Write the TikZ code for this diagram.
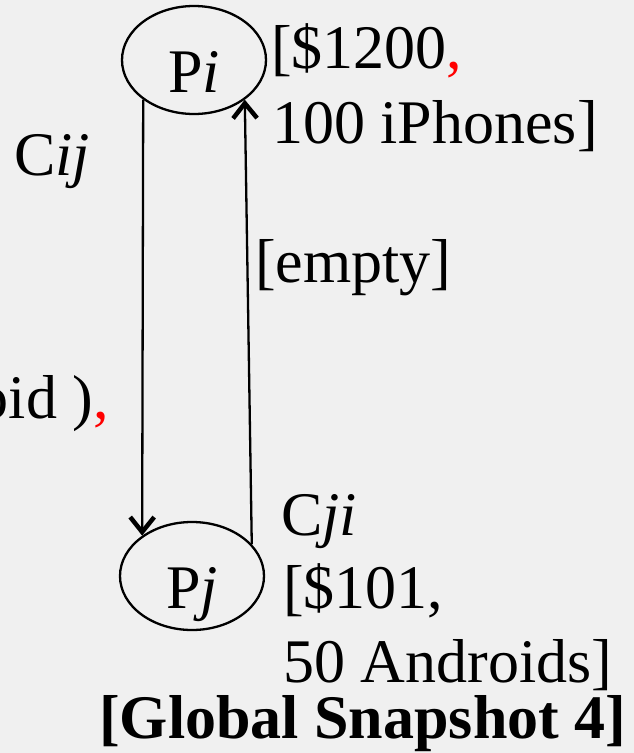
\documentclass[tikz,border=0pt]{standalone}
\usepackage{fontspec}
\setmainfont{Liberation Serif}
\usetikzlibrary{shapes.geometric,arrows.meta}
\definecolor{bggray}{RGB}{240,240,240}
\newcommand*{\picw}{634}
\newcommand*{\pich}{753}

\begin{document}
\begin{tikzpicture}
[
	x=1pt,y=-1pt,
	>={Straight Barb[length=15pt,width=24pt,line width=4.5pt]},
	proc/.style={ellipse,draw,line width=2.3pt,inner sep=0pt,minimum width=144pt,minimum height=108pt,text height=64pt,text depth=0pt,font=\fontsize{62}{74}\selectfont},
	txt/.style={anchor=base west,inner sep=0pt,font=\fontsize{62}{74}\selectfont},
	msg/.style={->,line width=2.3pt}
]

	% background
	\useasboundingbox[fill=bggray] (0,0) rectangle (\picw,\pich);
	\clip (0,0) rectangle (\picw,\pich);

	% processes
	\node[proc] at (194,60) (Pi) {P\textit{i}};
	\node[proc] at (192,576) (Pj) {P\textit{j}};

	% channels
	\draw[msg] (Pi.218) -- (Pj.141);
	\draw[msg] (Pj.28) -- (Pi.322);

	% state of Pi
	\node[txt] at (271,68) (pistate) {[\$1200{\color{red},}};
	\node[txt] at (272,143) (pigoods) {100 iPhones]};

	% channel Cij
	\node[txt] at (14,175) (cij) {C\textit{ij}};
	\node[txt,anchor=base east] at (109,418) (cijmsg) {oid ){\color{red},}};

	% channel Cji
	\node[txt] at (255,282) (cjimsg) {[empty]};

	% state of Pj
	\node[txt] at (281,535) (cji) {C\textit{ji}};
	\node[txt] at (283,608) (pjstate) {[\$101,};
	\node[txt] at (283,682) (pjgoods) {50 Androids]};

	% caption
	\node[txt,font=\fontsize{62}{74}\selectfont\bfseries] at (99,738) (caption) {[Global Snapshot 4]};

\end{tikzpicture}
\end{document}
